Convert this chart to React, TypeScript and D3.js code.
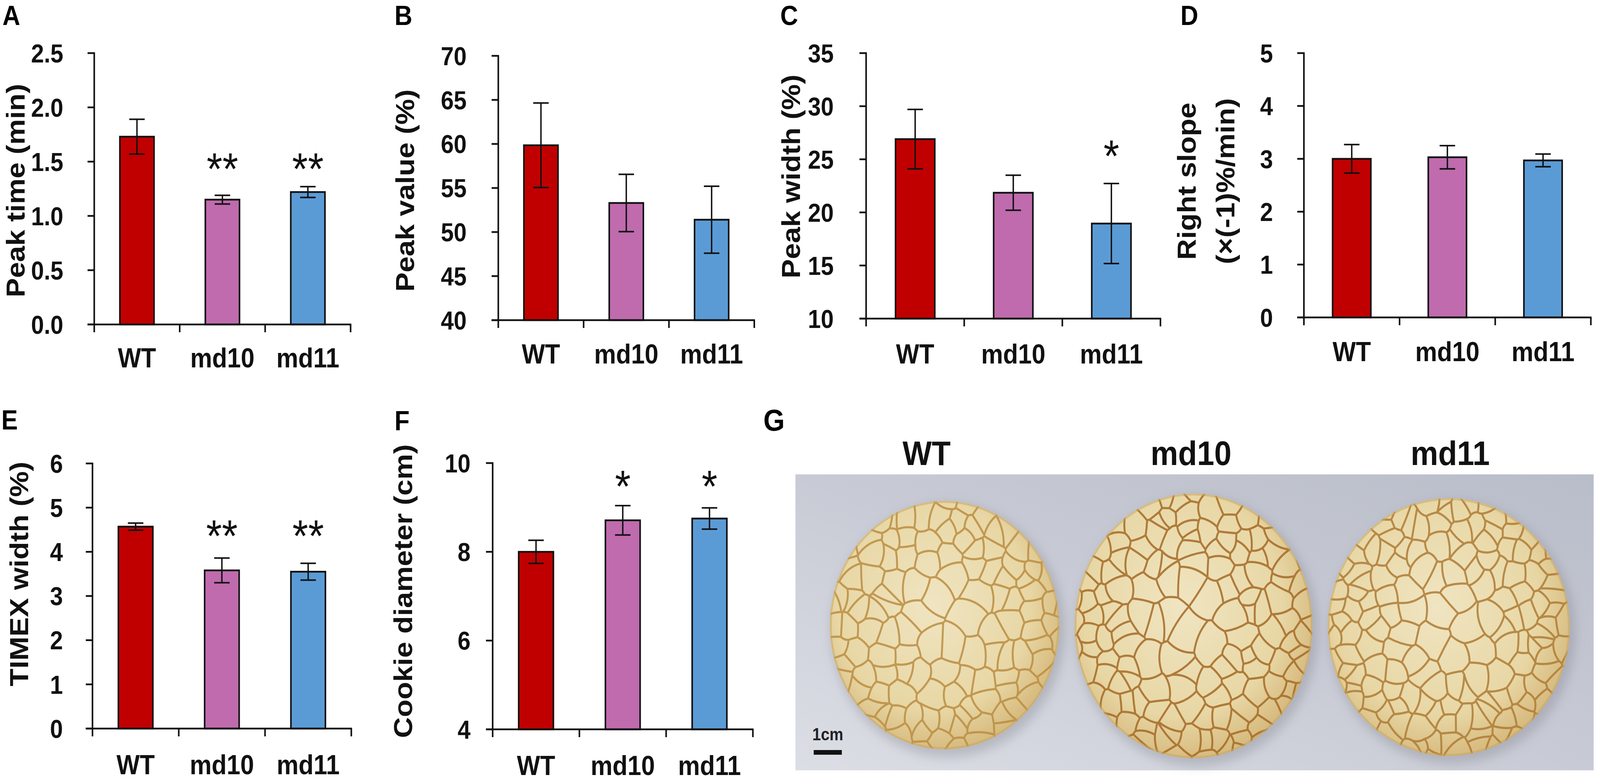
import React from "react";
import * as d3 from "d3";

// ---------- data ----------
const categories = ["WT", "md10", "md11"];
const barColors = ["#C00000", "#BF6BAE", "#5B9BD5"];

const peakTimeMean = [1.73, 1.15, 1.22];
const peakTimeErr = [0.16, 0.04, 0.05];
const peakTimeSig = ["", "**", "**"];
const peakTimeTicks = [0, 0.5, 1.0, 1.5, 2.0, 2.5];

const peakValueMean = [59.85, 53.3, 51.4];
const peakValueErr = [4.8, 3.25, 3.8];
const peakValueSig = ["", "", ""];
const peakValueTicks = [40, 45, 50, 55, 60, 65, 70];

const peakWidthMean = [26.9, 21.85, 18.95];
const peakWidthErr = [2.8, 1.65, 3.77];
const peakWidthSig = ["", "", "*"];
const peakWidthTicks = [10, 15, 20, 25, 30, 35];

const rightSlopeMean = [3.0, 3.03, 2.97];
const rightSlopeErr = [0.27, 0.22, 0.12];
const rightSlopeSig = ["", "", ""];
const rightSlopeTicks = [0, 1, 2, 3, 4, 5];

const timexMean = [4.57, 3.58, 3.55];
const timexErr = [0.08, 0.28, 0.19];
const timexSig = ["", "**", "**"];
const timexTicks = [0, 1, 2, 3, 4, 5, 6];

const diameterMean = [8.0, 8.71, 8.75];
const diameterErr = [0.26, 0.33, 0.24];
const diameterSig = ["", "*", "*"];
const diameterTicks = [4, 6, 8, 10];

const photoLabels = ["WT", "md10", "md11"];

// ---------- layout ----------
const W = 4550;
const H = 2008;
const FONT = "'Liberation Sans', Arial, Helvetica, sans-serif";

type Panel = {
  letter: string; lx: number; ly: number;
  mean: number[]; err: number[]; sig: string[]; ticks: number[]; fmt: string;
  x0: number; x1: number; yTop: number; yBot: number; tickGap: number;
  xLabelY: number; yLabels: { text: string; x: number }[]; yLabelCy: number; sigY: number;
};

const panels: Panel[] = [
  { letter: "A", lx: 7, ly: 64, mean: peakTimeMean, err: peakTimeErr, sig: peakTimeSig, ticks: peakTimeTicks, fmt: ".1f",
    x0: 268, x1: 997, yTop: 136, yBot: 831, tickGap: 88, xLabelY: 941,
    yLabels: [{ text: "Peak time (min)", x: 70 }], yLabelCy: 488, sigY: 406 },
  { letter: "B", lx: 1122, ly: 64, mean: peakValueMean, err: peakValueErr, sig: peakValueSig, ticks: peakValueTicks, fmt: "d",
    x0: 1417, x1: 2145, yTop: 143, yBot: 820, tickGap: 90, xLabelY: 931,
    yLabels: [{ text: "Peak value (%)", x: 1178 }], yLabelCy: 488, sigY: 0 },
  { letter: "C", lx: 2219, ly: 64, mean: peakWidthMean, err: peakWidthErr, sig: peakWidthSig, ticks: peakWidthTicks, fmt: "d",
    x0: 2463, x1: 3300, yTop: 136, yBot: 816, tickGap: 92, xLabelY: 931,
    yLabels: [{ text: "Peak width (%)", x: 2275 }], yLabelCy: 452, sigY: 373 },
  { letter: "D", lx: 3357, ly: 64, mean: rightSlopeMean, err: rightSlopeErr, sig: rightSlopeSig, ticks: rightSlopeTicks, fmt: "d",
    x0: 3708, x1: 4524, yTop: 136, yBot: 813, tickGap: 88, xLabelY: 925,
    yLabels: [{ text: "Right slope", x: 3400 }, { text: "(×(-1)%/min)", x: 3510 }], yLabelCy: 464, sigY: 0 },
  { letter: "E", lx: 4, ly: 1100, mean: timexMean, err: timexErr, sig: timexSig, ticks: timexTicks, fmt: "d",
    x0: 263, x1: 999, yTop: 1187, yBot: 1866, tickGap: 84, xLabelY: 1983,
    yLabels: [{ text: "TIMEX width (%)", x: 80 }], yLabelCy: 1470, sigY: 1346 },
  { letter: "F", lx: 1122, ly: 1102, mean: diameterMean, err: diameterErr, sig: diameterSig, ticks: diameterTicks, fmt: "d",
    x0: 1401, x1: 2141, yTop: 1186, yBot: 1868, tickGap: 63, xLabelY: 1985,
    yLabels: [{ text: "Cookie diameter (cm)", x: 1172 }], yLabelCy: 1514, sigY: 1219 },
];

function BarPanel({ p }: { p: Panel }) {
  const x = d3.scaleBand<string>().domain(categories).range([p.x0, p.x1]).paddingInner(0.6).paddingOuter(0.3);
  const ext = d3.extent(p.ticks) as [number, number];
  const y = d3.scaleLinear().domain(ext).range([p.yBot, p.yTop]);
  const fmt = d3.format(p.fmt);
  const step = x.step();
  const bounds = d3.range(categories.length + 1).map((i) => p.x0 + i * step);
  const tickLen = 19;
  const sw = 4.5;
  return (
    <g fontFamily={FONT}>
      <text x={p.lx} y={p.ly} fontSize={70} fontWeight="bold">{p.letter}</text>
      {p.mean.map((v, i) => {
        const c = categories[i];
        const bx = x(c)!;
        const cx = bx + x.bandwidth() / 2;
        return (
          <g key={c}>
            <rect x={bx} y={y(v)} width={x.bandwidth()} height={p.yBot - y(v)} fill={barColors[i]} stroke="#111" strokeWidth={sw} />
            <line x1={cx} x2={cx} y1={y(v + p.err[i])} y2={y(v - p.err[i])} stroke="#111" strokeWidth={4} />
            <line x1={cx - 22} x2={cx + 22} y1={y(v + p.err[i])} y2={y(v + p.err[i])} stroke="#111" strokeWidth={4} />
            <line x1={cx - 22} x2={cx + 22} y1={y(v - p.err[i])} y2={y(v - p.err[i])} stroke="#111" strokeWidth={4} />
            {p.sig[i] ? (
              <text x={cx} y={p.sigY + 66} textAnchor="middle" fontSize={115} fill="#111">{p.sig[i]}</text>
            ) : null}
          </g>
        );
      })}
      <line x1={p.x0} x2={p.x0} y1={p.yTop - 2} y2={p.yBot} stroke="#111" strokeWidth={sw} />
      {p.ticks.map((t) => (
        <g key={t}>
          <line x1={p.x0 - tickLen} x2={p.x0} y1={y(t)} y2={y(t)} stroke="#111" strokeWidth={sw} />
          <text x={p.x0 - p.tickGap} y={y(t)} dy="0.36em" textAnchor="end" fontSize={66} fontWeight="bold" fill="#111">{fmt(t)}</text>
        </g>
      ))}
      <line x1={p.x0 - tickLen} x2={p.x1 + 2} y1={p.yBot} y2={p.yBot} stroke="#111" strokeWidth={sw} />
      {bounds.map((bx, i) => (
        <line key={i} x1={bx} x2={bx} y1={p.yBot} y2={p.yBot + 20} stroke="#111" strokeWidth={sw} />
      ))}
      {categories.map((c) => (
        <text key={c} x={x(c)! + x.bandwidth() / 2} y={p.xLabelY} textAnchor="middle" fontSize={70} fontWeight="bold" fill="#111">{c}</text>
      ))}
      {p.yLabels.map((l) => (
        <text key={l.text} transform={`translate(${l.x},${p.yLabelCy}) rotate(-90)`} textAnchor="middle" fontSize={74} fontWeight="bold" fill="#111">{l.text}</text>
      ))}
    </g>
  );
}

// ---------- photo panel (G) ----------
const photo = { x: 2262, y: 1215, w: 2270, h: 758 };
const cookies = [
  { cx: 2686, cy: 1601, rx: 326, ry: 318, crack: "#bb8d42", seed: 1.3, n: 120 },
  { cx: 3394, cy: 1603, rx: 338, ry: 339, crack: "#a46a26", seed: 2.7, n: 140 },
  { cx: 4120, cy: 1606, rx: 344, ry: 330, crack: "#ae7b35", seed: 4.1, n: 150 },
];
const labelX = [2635, 3387, 4124];

const frac = (v: number) => v - Math.floor(v);
const hash = (a: number, b: number) => frac(Math.sin(a * 12.9898 + b * 78.233) * 43758.5453);

function crackPath(cx: number, cy: number, rx: number, ry: number, n: number, seed: number) {
  const pts: [number, number][] = [];
  for (let i = 0; i < n; i++) {
    const t = (i + 0.5) / n;
    const r = Math.pow(t, 0.36) * 1.03;
    const a = i * 2.399963 + seed;
    const jx = (hash(i, seed) - 0.5) * 0.16;
    const jy = (hash(i + 101, seed * 3.1) - 0.5) * 0.16;
    pts.push([cx + (r * Math.cos(a) + jx) * rx, cy + (r * Math.sin(a) + jy) * ry]);
  }
  const vor = d3.Delaunay.from(pts).voronoi([cx - rx * 1.1, cy - ry * 1.1, cx + rx * 1.1, cy + ry * 1.1]);
  const seen = new Set<string>();
  let d = "";
  for (const poly of vor.cellPolygons()) {
    for (let k = 0; k < poly.length - 1; k++) {
      const p = poly[k];
      const q = poly[k + 1];
      const key = [p[0].toFixed(1), p[1].toFixed(1), q[0].toFixed(1), q[1].toFixed(1)];
      const k1 = key.join(",");
      const k2 = [key[2], key[3], key[0], key[1]].join(",");
      if (seen.has(k1) || seen.has(k2)) continue;
      seen.add(k1);
      const mx = (p[0] + q[0]) / 2;
      const my = (p[1] + q[1]) / 2;
      const dx = q[0] - p[0];
      const dy = q[1] - p[1];
      const h = (hash(Math.round(mx), Math.round(my)) - 0.5) * 0.45;
      d += `M${p[0]},${p[1]}Q${mx - dy * h},${my + dx * h} ${q[0]},${q[1]}`;
    }
  }
  return d;
}

function PhotoPanel() {
  return (
    <g fontFamily={FONT}>
      <defs>
        <linearGradient id="bg" x1="0" y1="1" x2="1" y2="0">
          <stop offset="0" stopColor="#dcdee5" />
          <stop offset="0.5" stopColor="#c8cbd5" />
          <stop offset="1" stopColor="#b9bdc9" />
        </linearGradient>
        <radialGradient id="cookieFill" cx="0.45" cy="0.42" r="0.6">
          <stop offset="0" stopColor="#f0e5c2" />
          <stop offset="0.7" stopColor="#e8d7a5" />
          <stop offset="1" stopColor="#d5b87b" />
        </radialGradient>
        <filter id="shadow" x="-20%" y="-20%" width="140%" height="140%">
          <feGaussianBlur stdDeviation="14" />
        </filter>
        {cookies.map((c, i) => (
          <clipPath id={`clip${i}`} key={i}>
            <ellipse cx={c.cx} cy={c.cy} rx={c.rx} ry={c.ry} />
          </clipPath>
        ))}
      </defs>
      <text x={2171} y={1103} fontSize={78} fontWeight="bold">G</text>
      {photoLabels.map((l, i) => (
        <text key={l} x={labelX[i]} y={1191} textAnchor="middle" fontSize={88} fontWeight="bold" fill="#111">{l}</text>
      ))}
      <rect x={photo.x} y={photo.y} width={photo.w} height={photo.h} fill="url(#bg)" />
      {cookies.map((c, i) => (
        <g key={i}>
          <ellipse cx={c.cx + 10} cy={c.cy + 14} rx={c.rx + 6} ry={c.ry + 6} fill="#7d7f88" opacity={0.35} filter="url(#shadow)" />
          <ellipse cx={c.cx} cy={c.cy} rx={c.rx} ry={c.ry} fill="url(#cookieFill)" />
          <g clipPath={`url(#clip${i})`}>
            <path d={crackPath(c.cx, c.cy, c.rx, c.ry, c.n, c.seed)} fill="none" stroke={c.crack} strokeWidth={5.5} strokeLinecap="round" opacity={0.85} />
            <ellipse cx={c.cx} cy={c.cy} rx={c.rx} ry={c.ry} fill="none" stroke="#c9a560" strokeWidth={10} opacity={0.55} />
          </g>
        </g>
      ))}
      <text x={2354} y={1896} textAnchor="middle" fontSize={44} fontWeight="bold" fill="#222">1cm</text>
      <rect x={2314} y={1921} width={80} height={12} fill="#111" />
    </g>
  );
}

export default function App() {
  return (
    <div style={{ position: "fixed", left: 0, top: 0, width: "100vw", height: "100vh", overflow: "hidden", background: "#fff" }}>
      <style>{`html,body{margin:0;padding:0;overflow:hidden;background:#fff}`}</style>
      <svg width="100%" height="100%" viewBox={`0 0 ${W} ${H}`} preserveAspectRatio="none" style={{ display: "block" }}>
        <rect width={W} height={H} fill="#fff" />
        {panels.map((p) => (
          <BarPanel key={p.letter} p={p} />
        ))}
        <PhotoPanel />
      </svg>
    </div>
  );
}
